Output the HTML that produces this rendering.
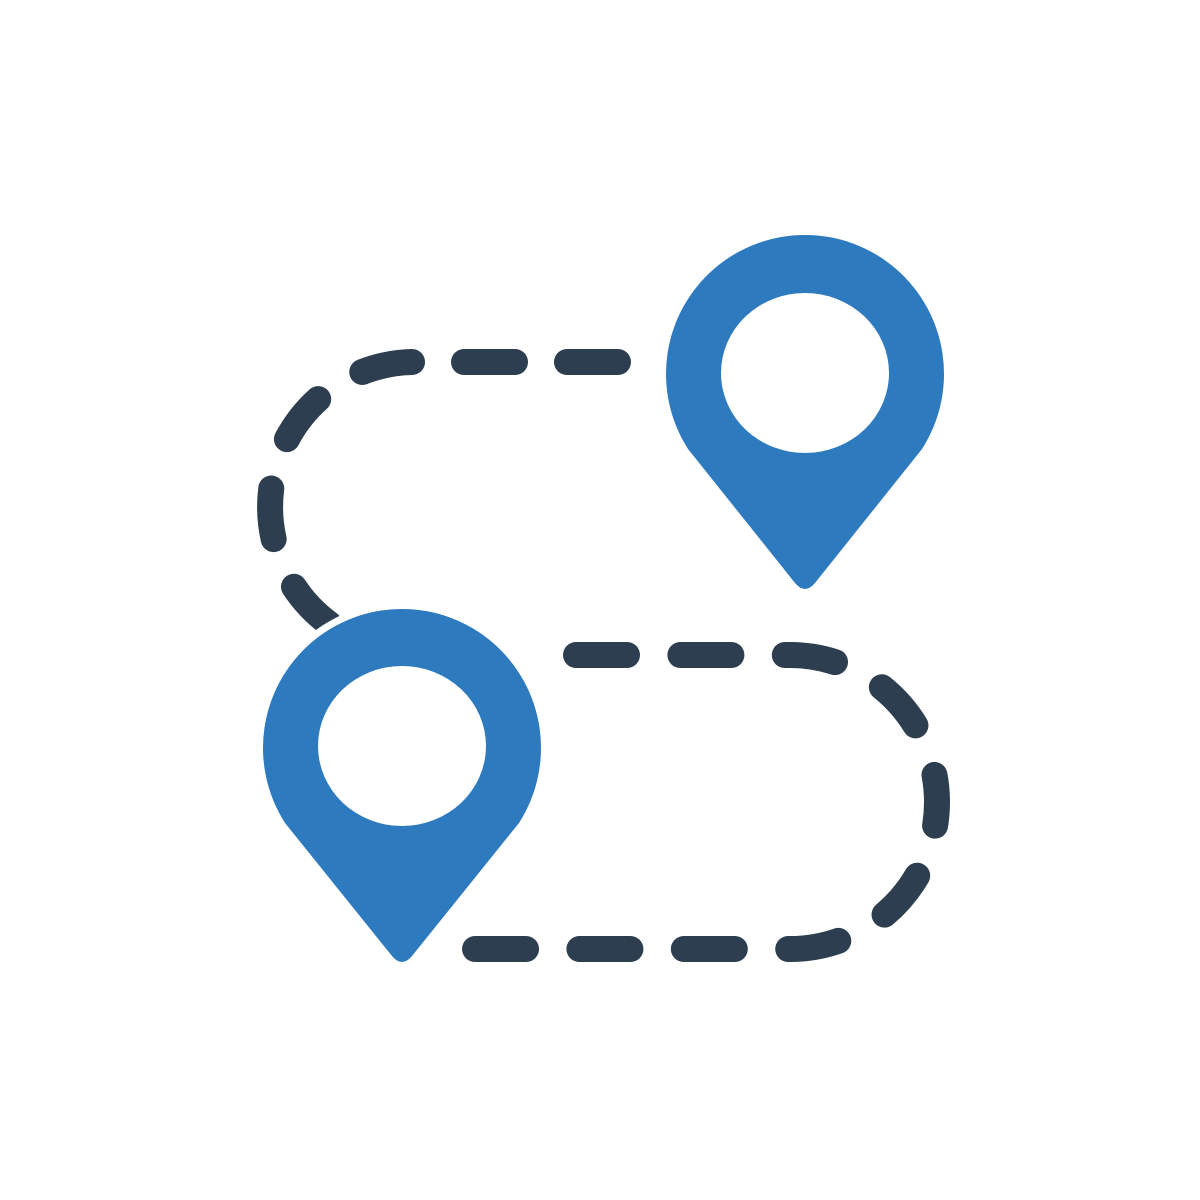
<!DOCTYPE html>
<html><head><style>html,body{margin:0;padding:0;background:#fff}svg{display:block}</style></head>
<body>
<svg width="1200" height="1200" viewBox="0 0 1200 1200" xmlns="http://www.w3.org/2000/svg">
<rect width="1200" height="1200" fill="#fff"/>
<g fill="none" stroke="#2d3e50" stroke-width="26" stroke-linecap="round">
<path d="M618,362 H415 A145 145 0 0 0 415,652" stroke-dasharray="51 52"/>
<path d="M576,655 H790 A147 147 0 0 1 790,949 H470" stroke-dasharray="51 53.4"/>
</g>
<g fill="#2e7abf" stroke="#fff" stroke-width="14" paint-order="stroke" stroke-linejoin="round">
<path d="M688,449 A139 139 0 1 1 922,449 L815,583 Q805,595 795,583 Z"/>
<path d="M285,823 A139 139 0 1 1 519,823 L412,956 Q402,968 392,956 Z"/>
</g>
<ellipse cx="805" cy="373" rx="84" ry="80" fill="#fff"/>
<ellipse cx="402" cy="746" rx="84" ry="80" fill="#fff"/>
</svg>
</body></html>
